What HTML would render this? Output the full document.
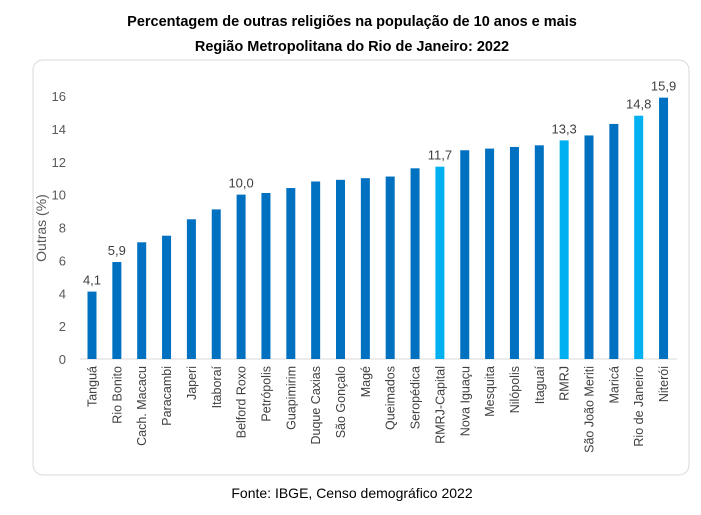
<!DOCTYPE html>
<html><head><meta charset="utf-8"><style>
body{margin:0;background:#fff;}
svg text{font-family:"Liberation Sans",sans-serif;}
</style></head><body>
<svg id="chart" width="701" height="510" xmlns="http://www.w3.org/2000/svg">
<rect x="0" y="0" width="701" height="510" fill="#fff"/>
<text x="352" y="26" text-anchor="middle" font-size="14.5" font-weight="bold" fill="#000">Percentagem de outras religiões na população de 10 anos e mais</text>
<text x="352" y="51" text-anchor="middle" font-size="14.5" font-weight="bold" fill="#000">Região Metropolitana do Rio de Janeiro: 2022</text>
<rect x="33" y="60" width="656" height="415" rx="10" fill="#fff" stroke="#d9d9d9"/>
<text transform="translate(46,228) rotate(-90)" text-anchor="middle" font-size="14" fill="#595959">Outras (%)</text>
<g id="yticks"></g>
<line x1="80" y1="359" x2="677" y2="359" stroke="#d9d9d9"/>
<g id="bars"></g>
<text x="352" y="498" text-anchor="middle" font-size="14" fill="#000">Fonte: IBGE, Censo demográfico 2022</text>
</svg>
<script>
const categories=["Tanguá","Rio Bonito","Cach. Macacu","Paracambi","Japeri","Itaboraí","Belford Roxo","Petrópolis","Guapimirim","Duque Caxias","São Gonçalo","Magé","Queimados","Seropédica","RMRJ-Capital","Nova Iguaçu","Mesquita","Nilópolis","Itaguaí","RMRJ","São João Meriti","Maricá","Rio de Janeiro","Niterói"];
const values=[4.1,5.9,7.1,7.5,8.5,9.1,10.0,10.1,10.4,10.8,10.9,11.0,11.1,11.6,11.7,12.7,12.8,12.9,13.0,13.3,13.6,14.3,14.8,15.9];
const highlighted=["RMRJ-Capital","RMRJ","Rio de Janeiro"];
const labeled=["Tanguá","Rio Bonito","Belford Roxo","RMRJ-Capital","RMRJ","Rio de Janeiro","Niterói"];
const yTicks=[0,2,4,6,8,10,12,14,16];
const NS="http://www.w3.org/2000/svg";
const y0=359,yScale=263/16;
const y=v=>y0-v*yScale;
const x=i=>92+i*24.85;
const yt=document.getElementById('yticks');
yTicks.forEach(t=>{
 const e=document.createElementNS(NS,'text');
 
 
 e.setAttribute('x',66);e.setAttribute('y',y(t)+5);
 e.setAttribute('text-anchor','end');e.setAttribute('font-size','13');e.setAttribute('fill','#595959');
 e.textContent=t;yt.appendChild(e);
});
const g=document.getElementById('bars');
categories.forEach((c,i)=>{
 const v=values[i];
 const r=document.createElementNS(NS,'rect');
 
 
 r.setAttribute('x',x(i)-4.5);r.setAttribute('width',9);
 r.setAttribute('y',y(v));r.setAttribute('height',y0-y(v));
 r.setAttribute('fill',highlighted.includes(c)?'#00B0F0':'#0070C0');
 g.appendChild(r);
 const l=document.createElementNS(NS,'text');
 
 
 l.setAttribute('transform','translate('+(x(i)+4.5)+',366) rotate(-90)');
 l.setAttribute('text-anchor','end');l.setAttribute('font-size','12.5');l.setAttribute('fill','#404040');
 l.textContent=c;g.appendChild(l);
 if(labeled.includes(c)){
  const d=document.createElementNS(NS,'text');
  
  
  d.setAttribute('x',x(i));d.setAttribute('y',y(v)-7);
  d.setAttribute('text-anchor','middle');d.setAttribute('font-size','13');d.setAttribute('fill','#404040');
  d.textContent=v.toFixed(1).replace('.',',');g.appendChild(d);
 }
});
</script>
</body></html>
